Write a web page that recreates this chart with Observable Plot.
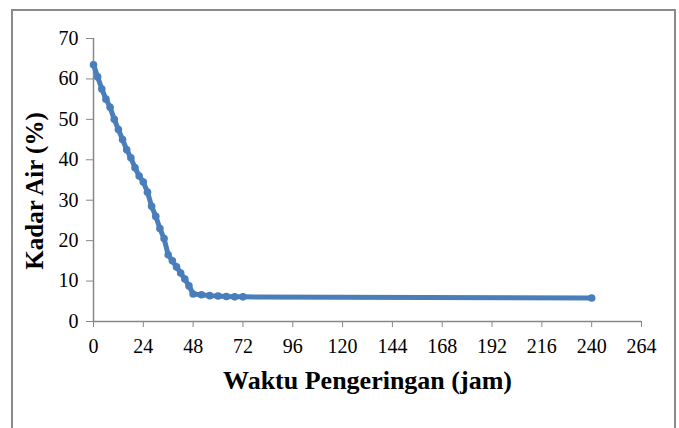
<!DOCTYPE html>
<html>
<head>
<meta charset="utf-8">
<script src="https://cdn.jsdelivr.net/npm/d3@7"></script>
<script src="https://cdn.jsdelivr.net/npm/@observablehq/plot@0.6"></script>
<style>
  html, body { margin: 0; padding: 0; background: #fff; }
  #wrap { position: relative; width: 679px; height: 428px; overflow: hidden; }
  #frame { position: absolute; left: 11px; top: 9px; width: 665px; height: 440px; border: 2px solid #8a8a8a; box-sizing: border-box; }
  #chart { position: absolute; left: 0; top: 0; }
  #chart svg, #chart svg text { font-family: "Liberation Serif", "Times New Roman", serif !important; }
</style>
</head>
<body>
<div id="wrap"><div id="frame"></div><div id="chart"></div></div>
<script>
const hours = [0, 2, 4, 6, 8, 10, 12, 14, 16, 18, 20, 22, 24, 26, 28, 30, 32, 34, 36, 38, 40, 42, 44, 46, 48, 52, 56, 60, 64, 68, 72, 240];
const moisture = [63.5, 60.5, 57.5, 55, 53, 50, 47.5, 45, 42.5, 40.5, 38, 36, 34.5, 32, 28.5, 26, 23, 20.5, 16.5, 15, 13.5, 12, 10.5, 8.8, 6.8, 6.6, 6.4, 6.3, 6.2, 6.1, 6.1, 5.8];
const xTicks = [0, 24, 48, 72, 96, 120, 144, 168, 192, 216, 240, 264];
const yTicks = [0, 10, 20, 30, 40, 50, 60, 70];
const xTitle = "Waktu Pengeringan (jam)";
const yTitle = "Kadar Air (%)";

const data = hours.map((h, i) => ({h, m: moisture[i]}));
const blue = "#4a7ebb";
const serif = "Liberation Serif";

const chart = Plot.plot({
  width: 679,
  height: 428,
  marginLeft: 93,
  marginRight: 38,
  marginTop: 38,
  marginBottom: 107,
  style: {fontFamily: serif, fontSize: "20px", color: "#000", background: "transparent"},
  x: {domain: [0, 264]},
  y: {domain: [0, 70]},
  marks: [
    Plot.axisX({ticks: xTicks, tickSize: 6, tickPadding: 11, stroke: "#888", fill: "#000", label: null, fontSize: 20, fontFamily: serif}),
    Plot.axisY({ticks: yTicks, tickSize: 7, tickPadding: 8, stroke: "#888", fill: "#000", label: null, fontSize: 20, fontFamily: serif}),
    Plot.ruleY([0], {stroke: "#888", strokeWidth: 1.5}),
    Plot.ruleX([0], {stroke: "#888", strokeWidth: 1.5}),
    Plot.line(data, {x: "h", y: "m", stroke: blue, strokeWidth: 5}),
    Plot.dot(data, {x: "h", y: "m", fill: blue, r: 3.8}),
    Plot.text([xTitle], {frameAnchor: "bottom", dy: 67, textAnchor: "middle", fontWeight: "bold", fontSize: 26, fill: "#000", fontFamily: serif}),
    Plot.text([yTitle], {frameAnchor: "left", dx: -59, dy: 11, textAnchor: "middle", rotate: -90, fontWeight: "bold", fontSize: 25, fill: "#000", fontFamily: serif})
  ]
});
document.getElementById("chart").appendChild(chart);
</script>
</body>
</html>
